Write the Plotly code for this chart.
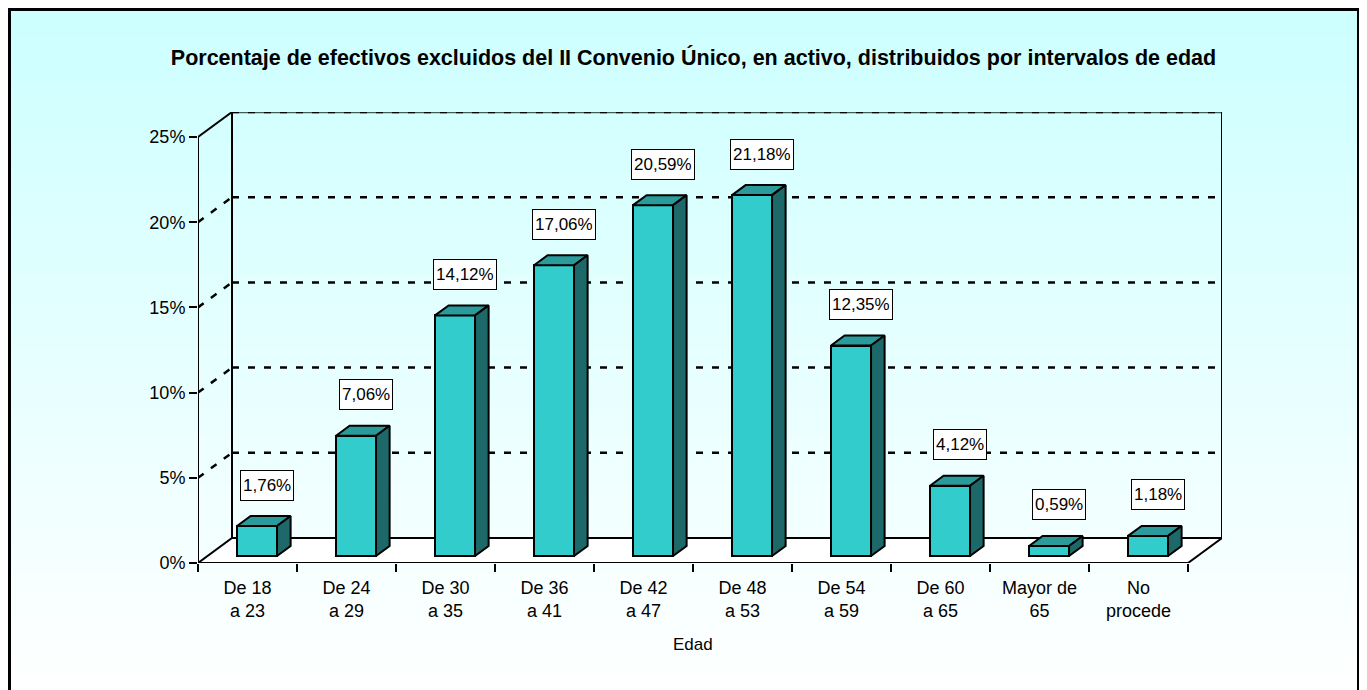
import plotly.graph_objects as go

# ---------------- data ----------------
categories = ["De 18<br>a 23", "De 24<br>a 29", "De 30<br>a 35", "De 36<br>a 41",
              "De 42<br>a 47", "De 48<br>a 53", "De 54<br>a 59", "De 60<br>a 65",
              "Mayor de<br>65", "No<br>procede"]
values = [1.76, 7.06, 14.12, 17.06, 20.59, 21.18, 12.35, 4.12, 0.59, 1.18]
y_ticks = [0, 5, 10, 15, 20, 25]
title_text = "Porcentaje de efectivos excluidos del II Convenio Único, en activo, distribuidos por intervalos de edad"
x_title = "Edad"

# ---------------- style / geometry ----------------
OFF = 8                       # page body margin
W, H = 1367 - OFF, 690 - OFF
L, T = 198 - OFF, 112 - OFF
R = W - (1222 - OFF)
B = H - (563 - OFF)
PW, PH = W - L - R, H - T - B
n = len(categories)
YMAX = 25
DX = 0.3434    # depth offset, category units
DY = 1.467     # depth offset, percent units
D0, D1 = 0.28, 0.68   # bar front / back depth fraction
HW = 0.202             # bar half width
FRONT = "#33CCCC"
TOP = "#2A9A9A"
SIDE = "#1D6868"
FONT = "Arial, Liberation Sans, sans-serif"
FS = 18

def px(xp):   # viewport pixel -> paper x
    return (xp - OFF - L) / PW

def py(yp):   # viewport pixel -> paper y
    return (H - B - (yp - OFF)) / PH

shapes = []
# background gradient (paper)
NB = 46
for k in range(NB):
    y0p = OFF + k * H / NB
    y1p = OFF + (k + 1) * H / NB + 1
    f = (k + 0.5) / NB
    g = int(round(204 + (255 - 204) * f))
    shapes.append(dict(type="rect", xref="paper", yref="paper", layer="below",
                       x0=px(0), x1=px(W + OFF + 2), y0=py(y0p), y1=py(y1p),
                       fillcolor=f"rgb({g},255,255)", line=dict(width=0)))

# floor
x_l, x_r = -0.5, n - 0.5
floor = f"M {x_l},0 L {x_r},0 L {x_r+DX},{DY} L {x_l+DX},{DY} Z"
shapes.append(dict(type="path", xref="x", yref="y", layer="below", path=floor,
                   fillcolor="white", line=dict(color="black", width=2)))

GRID = dict(color="black", width=2.5, dash="7px,9px")
# back wall gridlines and side wall gridlines
for v in y_ticks[1:]:
    if v == YMAX:
        shapes.append(dict(type="line", xref="x", yref="y", layer="below",
                           x0=x_l + DX, x1=x_r + DX, y0=v + DY, y1=v + DY,
                           line=dict(color="#3A6060", width=2.5)))
        shapes.append(dict(type="line", xref="x", yref="y", layer="below",
                           x0=x_l, x1=x_l + DX, y0=v, y1=v + DY,
                           line=dict(color="black", width=2)))
    else:
        shapes.append(dict(type="line", xref="x", yref="y", layer="below",
                           x0=x_l, x1=x_l + DX, y0=v, y1=v + DY, line=GRID))
    shapes.append(dict(type="line", xref="x", yref="y", layer="below",
                       x0=x_l + DX, x1=x_r + DX, y0=v + DY, y1=v + DY, line=GRID))

# wall verticals
for xx in (x_l + DX, x_r + DX):
    shapes.append(dict(type="line", xref="x", yref="y", layer="below",
                       x0=xx, x1=xx, y0=DY, y1=YMAX + DY,
                       line=dict(color="black", width=2)))
# front y axis line
shapes.append(dict(type="line", xref="x", yref="y", layer="below",
                   x0=x_l, x1=x_l, y0=0, y1=YMAX, line=dict(color="black", width=2)))

# outer border
shapes.append(dict(type="rect", xref="paper", yref="paper", layer="above",
                   x0=px(OFF + 1.5), x1=px(1358.5), y0=py(OFF + 1.5), y1=py(H + OFF + 5),
                   line=dict(color="black", width=3), fillcolor="rgba(0,0,0,0)"))

fig = go.Figure()

xs = list(range(n))
fig.add_trace(go.Bar(
    x=[i + D0 * DX for i in xs], y=values, base=D0 * DY, width=2 * HW,
    marker=dict(color=FRONT, line=dict(color="black", width=2)),
    hoverinfo="skip", showlegend=False))

for i, v in zip(xs, values):
    xa, xb = i - HW + D0 * DX, i + HW + D0 * DX
    xc, xd = i - HW + D1 * DX, i + HW + D1 * DX
    ya, yb = v + D0 * DY, v + D1 * DY
    fig.add_trace(go.Scatter(
        x=[xa, xb, xd, xc, xa], y=[ya, ya, yb, yb, ya], mode="lines", fill="toself",
        fillcolor=TOP, line=dict(color="black", width=2), hoverinfo="skip", showlegend=False))
    fig.add_trace(go.Scatter(
        x=[xb, xd, xd, xb, xb], y=[D0 * DY, D1 * DY, yb, ya, D0 * DY], mode="lines", fill="toself",
        fillcolor=SIDE, line=dict(color="black", width=2), hoverinfo="skip", showlegend=False))

annotations = []
for i, v in zip(xs, values):
    annotations.append(dict(
        x=i + 0.2, y=v + D0 * DY, xref="x", yref="y", yshift=41, yanchor="middle",
        text=f"{v:.2f}".replace(".", ",") + "%", showarrow=False, height=25,
        bgcolor="white", bordercolor="black", borderwidth=1, borderpad=2,
        font=dict(family=FONT, size=FS - 1, color="black")))
annotations.append(dict(
    x=px(693), y=py(644), xref="paper", yref="paper", text=x_title, showarrow=False,
    xanchor="center", yanchor="middle", font=dict(family=FONT, size=FS - 1, color="black")))

fig.update_layout(
    width=W, height=H,
    margin=dict(l=L, r=R, t=T, b=B, pad=0),
    paper_bgcolor="white", plot_bgcolor="rgba(0,0,0,0)",
    title=dict(text=f"<b>{title_text}</b>", x=(693.5 - OFF) / W, xref="container", xanchor="center",
               y=1 - (57 - OFF) / H, yref="container", yanchor="middle",
               font=dict(family=FONT, size=21.5, color="black")),
    shapes=shapes, annotations=annotations, bargap=0,
    font=dict(family=FONT, size=FS, color="black"),
    xaxis=dict(range=[x_l, x_r + DX], tickmode="array", tickvals=xs, ticktext=categories,
               ticks="outside", ticklen=8, tickcolor="rgba(0,0,0,0)",
               showgrid=False, zeroline=False, showline=False,
               minor=dict(tickmode="array", tickvals=[x_l + k for k in range(n + 1)],
                          ticks="outside", ticklen=8, tickcolor="black", tickwidth=1.5,
                          showgrid=False),
               tickfont=dict(family=FONT, size=FS, color="black"), fixedrange=True),
    yaxis=dict(range=[0, YMAX + DY], tickmode="array", tickvals=y_ticks,
               ticktext=[f"{t}%" for t in y_ticks],
               ticks="outside", ticklen=8, tickcolor="black", tickwidth=1.5,
               showgrid=False, zeroline=False, showline=False,
               tickfont=dict(family=FONT, size=FS, color="black"), fixedrange=True),
)

fig.write_html("out.html")
